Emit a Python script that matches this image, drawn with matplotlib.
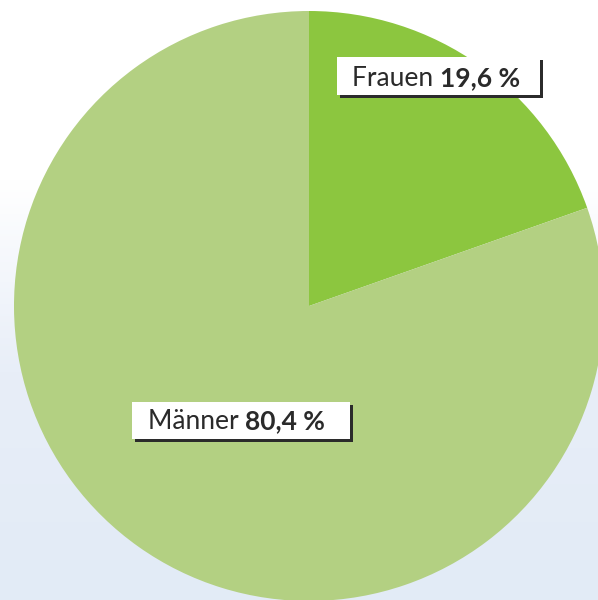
import numpy as np
import matplotlib
matplotlib.use("Agg")
import matplotlib.pyplot as plt
from matplotlib.patches import Rectangle
from matplotlib.colors import LinearSegmentedColormap

categories = ["Frauen", "Männer"]
values = [19.6, 80.4]
value_labels = ["19,6 %", "80,4 %"]
colors = ["#8cc63f", "#b3d082"]

W, H = 598, 600
fig = plt.figure(figsize=(W / 100, H / 100), dpi=100)
ax = fig.add_axes([0, 0, 1, 1])

# background gradient (white top -> light blue bottom)
cmap = LinearSegmentedColormap.from_list("bg", [(0, "#ffffff"), (0.30, "#ffffff"), (0.62, "#e8eef8"), (1.0, "#e2ebf6")])
grad = np.linspace(0, 1, 300).reshape(-1, 1)  # row 0 = top (white)
ax.imshow(grad, extent=[0, W, 0, H], cmap=cmap, aspect="auto", zorder=0, origin="upper")

cx, cy, r = 309, H - 306, 295
ax.pie(values, colors=colors, startangle=90, counterclock=False,
       center=(cx, cy), radius=r, frame=True,
       wedgeprops=dict(linewidth=0, zorder=2))
ax.set_xlim(0, W)
ax.set_ylim(0, H)
ax.set_aspect("auto")
ax.axis("off")

fig.canvas.draw()
renderer = fig.canvas.get_renderer()

fs = 19
fam = ["Lato", "DejaVu Sans"]
txt_color = "#2a2a2a"

# (box_x0, box_top, box_x1, box_bottom, text_x, baseline) in pixel coords from top
boxes = [
    (337, 57, 540, 95, 352, 86),
    (132, 402, 350, 439, 148, 429),
]
for (x0, t, x1, b, tx, base), cat, lab in zip(boxes, categories, value_labels):
    ax.add_patch(Rectangle((x0 + 3, H - b - 3), x1 - x0, b - t, facecolor="#2b2b2b", edgecolor="none", zorder=3))
    ax.add_patch(Rectangle((x0, H - b), x1 - x0, b - t, facecolor="white", edgecolor="none", zorder=4))
    t1 = ax.text(tx, H - base, cat + " ", fontsize=fs, family=fam, color=txt_color,
                 va="baseline", ha="left", zorder=5)
    bb = t1.get_window_extent(renderer=renderer)
    x_data = ax.transData.inverted().transform((bb.x1, 0))[0]
    ax.text(x_data, H - base, lab, fontsize=fs, family=fam, fontweight="bold", color=txt_color,
            va="baseline", ha="left", zorder=5)

fig.savefig("out.png", dpi=100)
